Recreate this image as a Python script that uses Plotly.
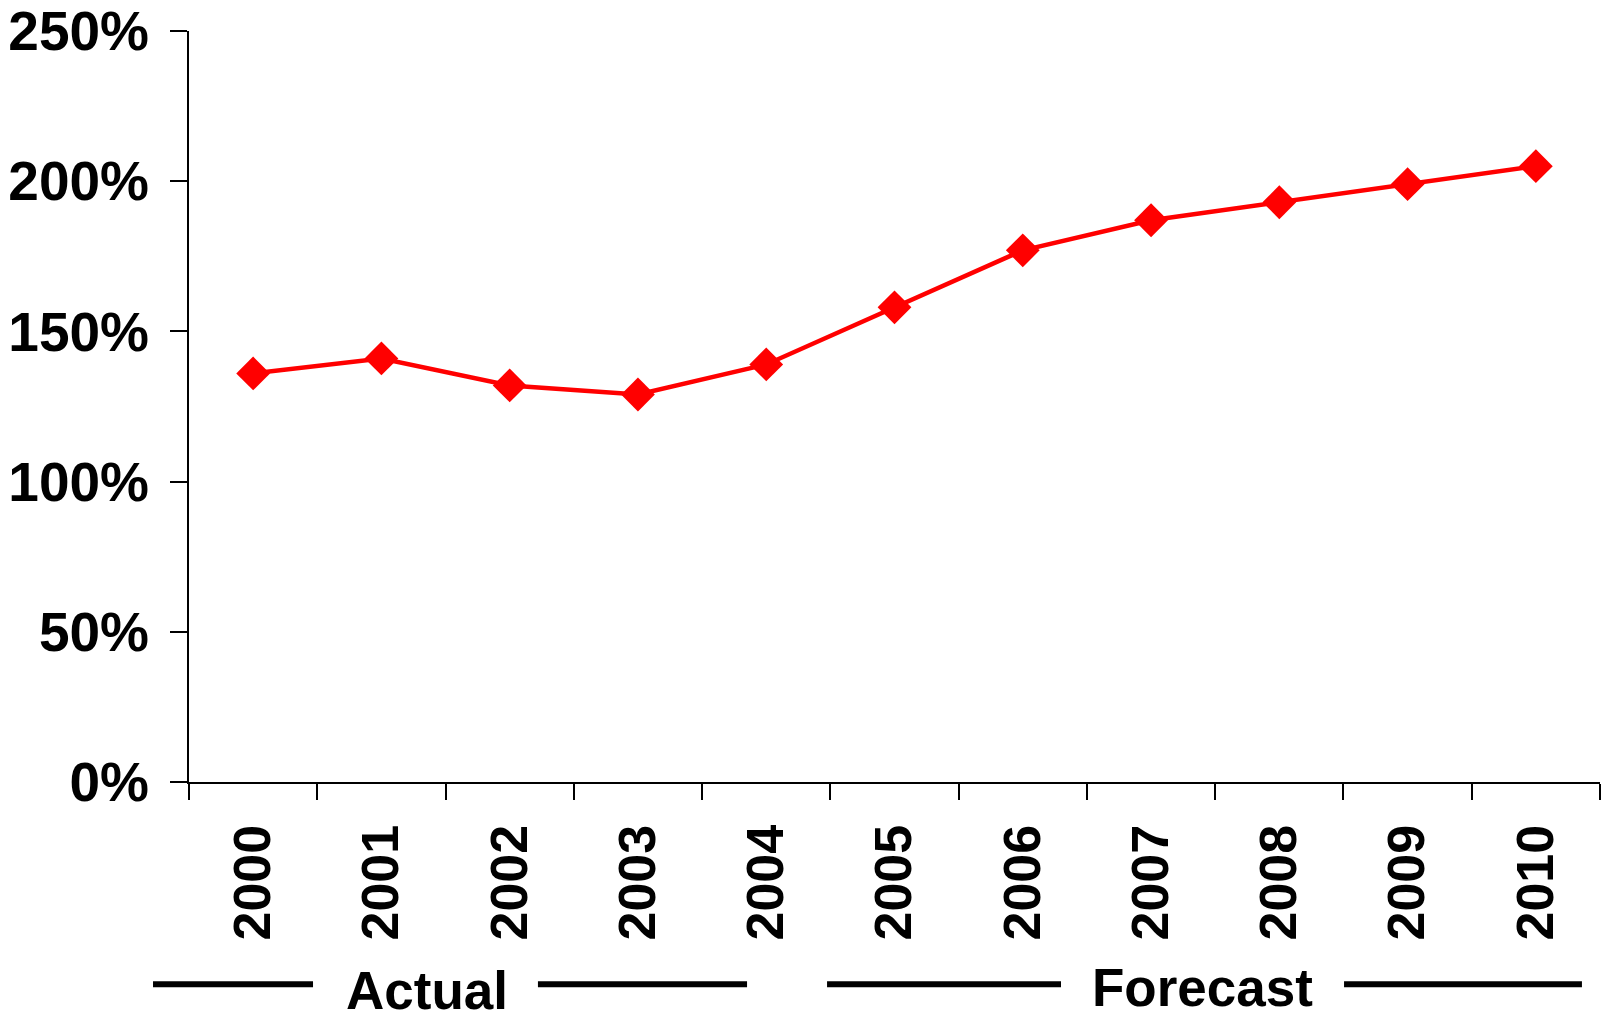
import plotly.graph_objects as go

years = ["2000", "2001", "2002", "2003", "2004", "2005", "2006", "2007", "2008", "2009", "2010"]
ratio_pct = [136, 141, 132, 129, 139, 158, 177, 187, 193, 199, 205]
y_ticks = [0, 50, 100, 150, 200, 250]
group_labels = ["Actual", "Forecast"]

FONT = "Liberation Sans, Arial, sans-serif"

fig = go.Figure()
fig.add_trace(go.Scatter(
    x=years, y=ratio_pct, mode="lines+markers",
    line=dict(color="#FF0000", width=4.5),
    marker=dict(symbol="diamond", size=26, color="#FF0000"),
    showlegend=False, hoverinfo="x+y",
))

fig.update_layout(
    width=1601, height=1019,
    margin=dict(l=189, r=1, t=31, b=237),
    paper_bgcolor="white", plot_bgcolor="white",
    font=dict(family=FONT, color="black"),
)
fig.update_xaxes(
    type="category", range=[-0.5, 10.5],
    showline=True, linecolor="black", linewidth=2,
    ticks="outside", tickson="boundaries", ticklen=16, tickwidth=2, tickcolor="black",
    tickangle=-90, ticklabelstandoff=20,
    tickfont=dict(family=FONT, size=52, weight="bold", color="black"),
    showgrid=False, zeroline=False,
)
fig.update_yaxes(
    range=[0, 250], tickvals=y_ticks, ticktext=[f"{v}%" for v in y_ticks],
    showline=True, linecolor="black", linewidth=2,
    ticks="outside", ticklen=17, tickwidth=2, tickcolor="black",
    ticklabelstandoff=10,
    tickfont=dict(family=FONT, size=55, weight="bold", color="black"),
    showgrid=False, zeroline=False,
)

# group separators below the axis (paper coordinates)
line_y = -0.2694
for x0, x1 in [(-0.0255, 0.0879), (0.2473, 0.3955), (0.4522, 0.6180), (0.8186, 0.9872)]:
    fig.add_shape(type="line", xref="paper", yref="paper", x0=x0, x1=x1, y0=line_y, y1=line_y,
                  line=dict(color="black", width=6))

for label, xc, yc in zip(group_labels, [0.1690, 0.7186], [-0.2770, -0.2735]):
    fig.add_annotation(text=label, xref="paper", yref="paper", x=xc, y=yc,
                       xanchor="center", yanchor="middle", showarrow=False,
                       font=dict(family=FONT, size=53, weight="bold", color="black"))

fig.write_html("out.html")
